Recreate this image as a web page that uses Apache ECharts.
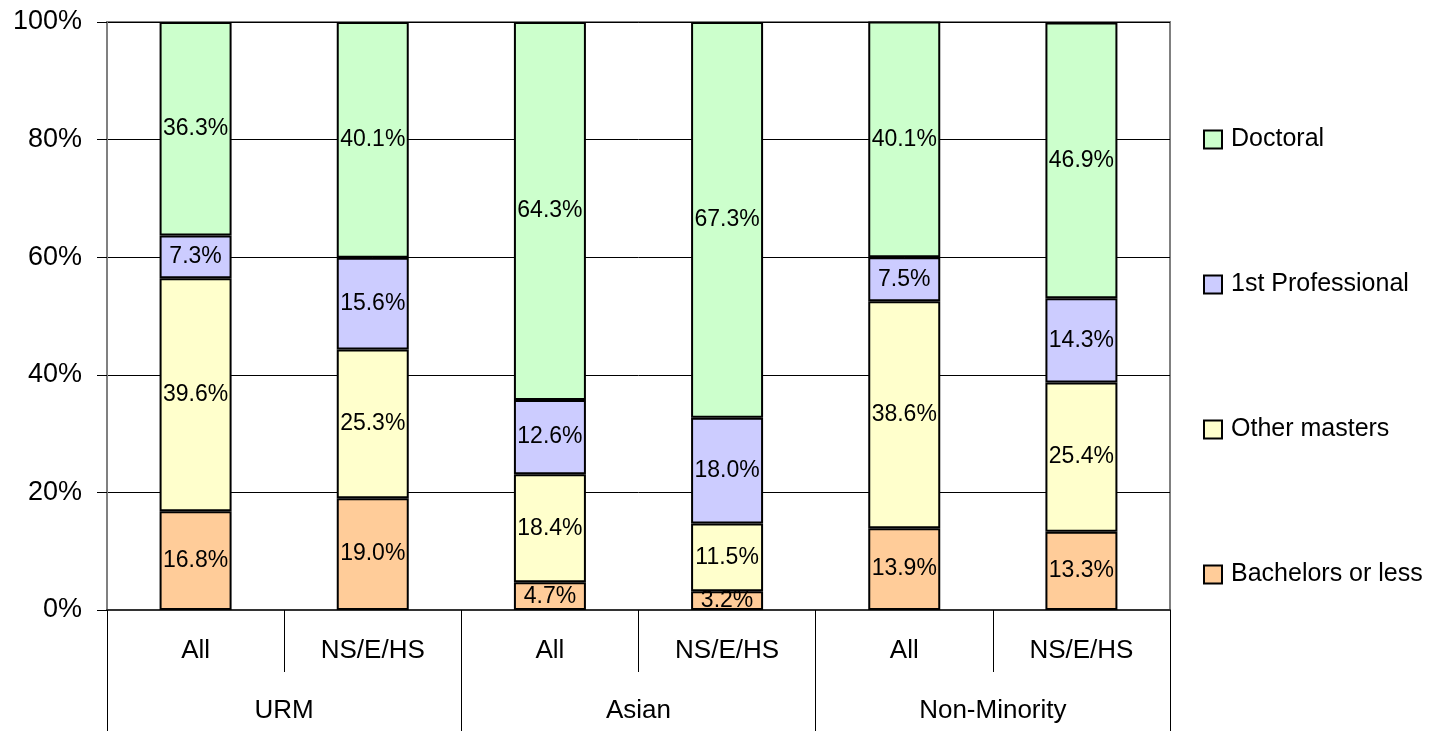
<!DOCTYPE html>
<html>
<head>
    <meta charset="utf-8">
    <title>Degree level by group</title>
    <script src="https://cdn.jsdelivr.net/npm/echarts@6/dist/echarts.min.js"></script>
    <style>
        html, body { margin: 0; padding: 0; background: #fff; }
        #chart { width: 1449px; height: 731px; }
    </style>
</head>
<body>
    <div id="chart"></div>
    <script type="text/javascript">
        // 数据
        var subCategories = ['All', 'NS/E/HS', 'All', 'NS/E/HS', 'All', 'NS/E/HS'];
        var groups = ['URM', 'Asian', 'Non-Minority'];
        var bachelors = [16.8, 19.0, 4.7, 3.2, 13.9, 13.3];
        var otherMasters = [39.6, 25.3, 18.4, 11.5, 38.6, 25.4];
        var firstProf = [7.3, 15.6, 12.6, 18.0, 7.5, 14.3];
        var doctoral = [36.3, 40.1, 64.3, 67.3, 40.1, 46.9];
        var yTicks = [0, 20, 40, 60, 80, 100];

        var font = 'Liberation Sans, Arial, sans-serif';
        var myChart = echarts.init(document.getElementById('chart'));

        function makeSeries(name, data, color) {
            return {
                name: name,
                type: 'bar',
                stack: 'total',
                barWidth: 72,
                data: data,
                itemStyle: { color: color, borderColor: '#000', borderWidth: 2 },
                label: {
                    show: true,
                    position: 'inside',
                    color: '#000',
                    fontFamily: font,
                    fontSize: 23,
                    formatter: function (p) { return p.value.toFixed(1) + '%'; }
                }
            };
        }

        myChart.setOption({
            animation: false,
            textStyle: { fontFamily: font },
            grid: {
                left: 107, right: 279, top: 22, bottom: 121,
                show: true, borderColor: '#808080', borderWidth: 2
            },
            legend: {
                orient: 'vertical',
                left: 1203,
                top: 127,
                padding: 0,
                itemWidth: 18,
                itemHeight: 18,
                itemGap: 120,
                icon: 'rect',
                data: ['Doctoral', '1st Professional', 'Other masters', 'Bachelors or less'],
                textStyle: { fontFamily: font, fontSize: 25, color: '#000', padding: [0, 0, 0, 4] }
            },
            xAxis: [
                {
                    type: 'category',
                    data: subCategories,
                    axisLine: { lineStyle: { color: '#333', width: 2 } },
                    axisTick: { show: true, interval: 0, length: 62, lineStyle: { color: '#000', width: 1 } },
                    axisLabel: { interval: 0, margin: 28, fontSize: 26, color: '#000', fontFamily: font }
                },
                {
                    type: 'category',
                    data: groups,
                    position: 'bottom',
                    offset: 62,
                    axisLine: { show: false },
                    axisTick: { show: true, interval: 0, length: 59, lineStyle: { color: '#000', width: 1 } },
                    axisLabel: { interval: 0, margin: 26, fontSize: 26, color: '#000', fontFamily: font }
                }
            ],
            yAxis: {
                type: 'value',
                min: yTicks[0],
                max: yTicks[yTicks.length - 1],
                interval: 20,
                axisLine: { show: true, lineStyle: { color: '#808080', width: 2 } },
                axisTick: { show: true, length: 10, lineStyle: { color: '#000' } },
                splitLine: { lineStyle: { color: '#000', width: 1 } },
                axisLabel: {
                    margin: 25, fontSize: 27, color: '#000', fontFamily: font,
                    formatter: function (v) { return v + '%'; }
                }
            },
            series: [
                makeSeries('Bachelors or less', bachelors, '#FFCC99'),
                makeSeries('Other masters', otherMasters, '#FFFFCC'),
                makeSeries('1st Professional', firstProf, '#CCCCFF'),
                makeSeries('Doctoral', doctoral, '#CCFFCC')
            ]
        });
    </script>
</body>
</html>
